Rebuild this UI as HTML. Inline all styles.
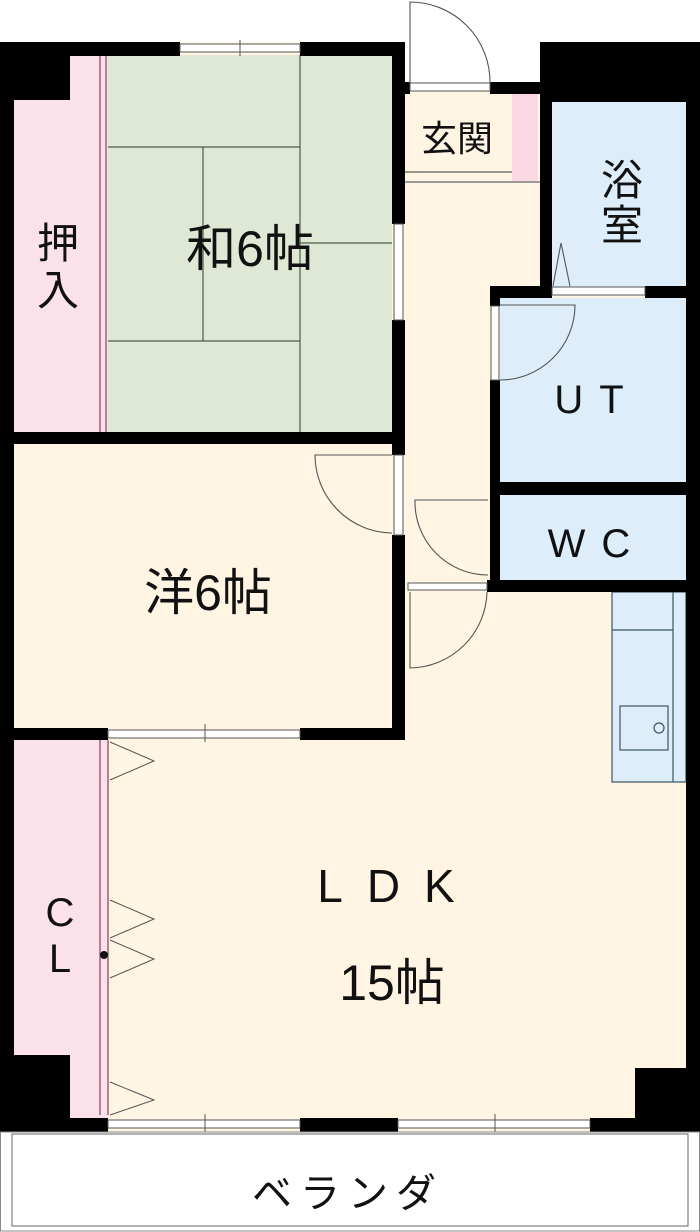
<!DOCTYPE html>
<html><head><meta charset="utf-8"><style>
html,body{margin:0;padding:0;background:#fff}
svg{display:block}
text{font-family:"Liberation Sans","Noto Sans CJK JP",sans-serif;fill:#111}
</style></head><body>
<svg width="700" height="1232" viewBox="0 0 700 1232" xmlns="http://www.w3.org/2000/svg">
<!-- floors -->
<rect x="0" y="42" width="700" height="1090" fill="#fff5e2"/>
<rect x="405" y="0" width="135" height="82" fill="#fff"/>
<rect x="108" y="55" width="284" height="377" fill="#dfe8d4"/>
<rect x="14" y="55" width="94" height="377" fill="#fbe1ea"/>
<rect x="14" y="740" width="94" height="380" fill="#fbe1ea"/>
<rect x="552" y="100" width="136" height="188" fill="#ddeefa"/>
<rect x="500" y="298" width="188" height="184" fill="#ddeefa"/>
<rect x="500" y="495" width="188" height="85" fill="#ddeefa"/>
<rect x="612" y="592" width="74" height="190" fill="#ddeefa" stroke="#3a5560" stroke-width="1.2"/>
<line x1="612" y1="630" x2="673" y2="630" stroke="#3a5560" stroke-width="1.2"/>
<line x1="673" y1="592" x2="673" y2="782" stroke="#3a5560" stroke-width="1.2"/>
<rect x="620" y="706" width="48" height="44" fill="none" stroke="#3a5560" stroke-width="1.2"/>
<circle cx="659" cy="728" r="5" fill="none" stroke="#3a5560" stroke-width="1.2"/>
<rect x="512" y="94" width="26" height="88" fill="#fbd8e4"/>
<line x1="405" y1="172" x2="512" y2="172" stroke="#333" stroke-width="1"/>
<line x1="405" y1="182" x2="540" y2="182" stroke="#999" stroke-width="2"/>
<!-- tatami lines -->
<g stroke="#4a5e44" stroke-width="1.2" fill="none">
<line x1="300" y1="55" x2="300" y2="432"/>
<line x1="108" y1="147" x2="300" y2="147"/>
<line x1="108" y1="341" x2="300" y2="341"/>
<line x1="203" y1="147" x2="203" y2="341"/>
<line x1="300" y1="243" x2="392" y2="243"/>
</g>
<g stroke="#a06070" stroke-width="1.5">
<line x1="100" y1="55" x2="100" y2="432"/><line x1="106" y1="55" x2="106" y2="432"/>
<line x1="100" y1="740" x2="100" y2="1115"/><line x1="108" y1="740" x2="108" y2="1115"/>
</g>
<!-- closet folding doors -->
<g stroke="#555" stroke-width="1" fill="none">
<polyline points="110,742 154,761 110,780"/>
<polyline points="110,900 154,919 110,938"/>
<polyline points="110,940 154,959 110,978"/>
<polyline points="110,1082 154,1100 110,1115"/>
</g>
<circle cx="104" cy="955" r="4" fill="#111"/>
<!-- walls -->
<g fill="#000">
<rect x="0" y="42" width="180" height="14"/>
<rect x="300" y="42" width="104" height="14"/>
<rect x="0" y="42" width="70" height="58"/>
<rect x="0" y="42" width="14" height="1090"/>
<rect x="392" y="42" width="13" height="182"/>
<rect x="392" y="320" width="13" height="135"/>
<rect x="0" y="432" width="405" height="12"/>
<rect x="392" y="535" width="13" height="205"/>
<rect x="300" y="728" width="105" height="12"/>
<rect x="0" y="728" width="108" height="12"/>
<rect x="490" y="82" width="62" height="12"/>
<rect x="405" y="82" width="5" height="12"/>
<rect x="540" y="42" width="160" height="60"/>
<rect x="540" y="42" width="12" height="250"/>
<rect x="686" y="42" width="14" height="1090"/>
<rect x="490" y="286" width="62" height="12"/>
<rect x="645" y="286" width="55" height="12"/>
<rect x="490" y="286" width="10" height="20"/>
<rect x="490" y="380" width="10" height="200"/>
<rect x="490" y="482" width="210" height="13"/>
<rect x="487" y="580" width="213" height="12"/>
<rect x="0" y="1055" width="70" height="77"/>
<rect x="635" y="1068" width="65" height="64"/>
<rect x="0" y="1118" width="108" height="14"/>
<rect x="300" y="1118" width="98" height="14"/>
<rect x="590" y="1118" width="110" height="14"/>
</g>
<!-- windows -->
<g stroke="#555" stroke-width="1" fill="#fff">
<rect x="180" y="44" width="120" height="8"/>
<rect x="108" y="730" width="192" height="8"/>
<rect x="108" y="1120" width="192" height="8"/>
<rect x="398" y="1120" width="192" height="8"/>
<rect x="394" y="224" width="9" height="96"/>
<rect x="394" y="455" width="9" height="80"/>
<rect x="410" y="83" width="80" height="8"/>
<rect x="408" y="583" width="79" height="7"/>
<rect x="552" y="287" width="93" height="8"/>
<rect x="491" y="306" width="8" height="74"/>
</g>
<g stroke="#555" stroke-width="1">
<line x1="240" y1="40" x2="240" y2="56"/><line x1="205" y1="724" x2="205" y2="742"/>
<line x1="205" y1="1114" x2="205" y2="1135"/><line x1="495" y1="1114" x2="495" y2="1135"/>
</g>
<!-- door arcs -->
<g stroke="#555" stroke-width="1.1" fill="none">
<path d="M410,83 L410,2 A80,80 0 0 1 490,83"/>
<path d="M392,455 L315,455 A78,78 0 0 0 392,533"/>
<path d="M488,500 L415,500 A73,73 0 0 0 488,575"/>
<path d="M410,592 L410,668 A78,78 0 0 0 487,592"/>
<path d="M500,305 L575,305 A75,75 0 0 1 500,380"/>
<polyline points="553,286 561,243 570,286"/>
</g>
<!-- veranda -->
<rect x="0.5" y="1132" width="699" height="99" fill="#fff" stroke="#888"/>
<rect x="12" y="1134" width="676" height="92" fill="none" stroke="#666"/>
<!-- labels -->
<text x="250" y="266" font-size="50" text-anchor="middle">和6帖</text>
<text x="58" y="258" font-size="42" text-anchor="middle">押</text>
<text x="58" y="305" font-size="42" text-anchor="middle">入</text>
<text x="457" y="151" font-size="36" text-anchor="middle">玄関</text>
<text x="622" y="195" font-size="42" text-anchor="middle">浴</text>
<text x="622" y="240" font-size="42" text-anchor="middle">室</text>
<text x="597" y="413" font-size="40" text-anchor="middle" letter-spacing="16">UT</text>
<text x="597" y="557" font-size="40" text-anchor="middle" letter-spacing="16">WC</text>
<text x="208" y="610" font-size="50" text-anchor="middle">洋6帖</text>
<text x="398" y="902" font-size="46" text-anchor="middle" letter-spacing="24">LDK</text>
<text x="392" y="1000" font-size="50" text-anchor="middle">15帖</text>
<text x="60" y="926" font-size="40" text-anchor="middle">C</text>
<text x="60" y="972" font-size="40" text-anchor="middle">L</text>
<text x="348" y="1207" font-size="40" text-anchor="middle" letter-spacing="8">ベランダ</text>
</svg>
</body></html>
